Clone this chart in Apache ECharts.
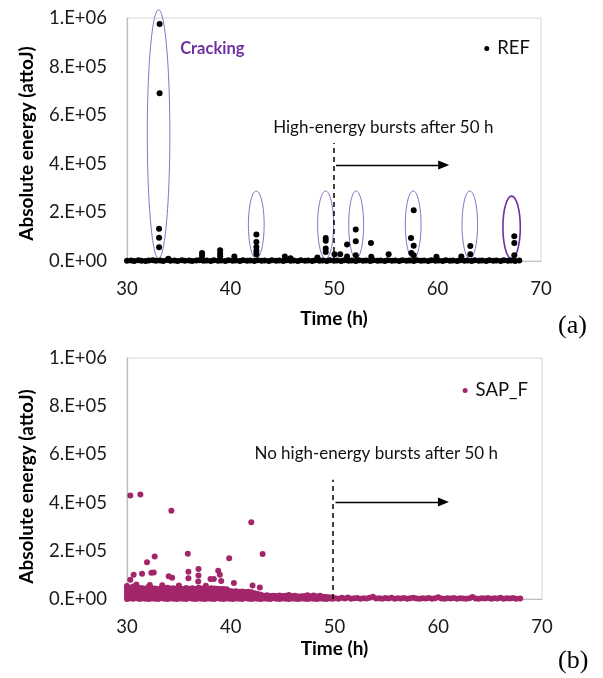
<!DOCTYPE html>
<html>
<head>
<meta charset="utf-8">
<script src="https://cdn.jsdelivr.net/npm/echarts@6/dist/echarts.min.js"></script>
<style>
  html, body { margin: 0; padding: 0; background: #fff; }
  #chart { width: 603px; height: 678px; }
</style>
</head>
<body>
<div id="chart"></div>
<script>
// ---- axis ticks ----
const timeTicks = { min: 30, max: 70, interval: 10 };
const energyTicks = { min: 0, max: 1000000, interval: 200000 };

// ---- REF (panel a): energy bursts [time h, energy attoJ] ----
const refBursts = [
  [33.15, 975000], [33.15, 690000], [33.1, 133000], [33.1, 96000], [33.1, 57000],
  [34.0, 9000],
  [37.25, 33000], [37.25, 22000],
  [39.0, 44000], [39.0, 31000], [39.0, 20000],
  [40.37, 19000],
  [42.5, 109000], [42.5, 78000], [42.5, 58000], [42.5, 41000], [42.5, 28000],
  [45.25, 19000], [45.8, 11000],
  [48.4, 14000],
  [49.2, 95000], [49.2, 83000], [49.2, 51000], [49.2, 37000],
  [50.05, 28000], [50.6, 28000],
  [51.26, 68000], [51.26, 19000],
  [52.1, 130000], [52.1, 81000], [52.1, 24000],
  [53.57, 74000], [53.6, 17000],
  [55.28, 28000],
  [57.7, 209000], [57.44, 95000], [57.7, 63000], [57.47, 33000], [57.7, 24000],
  [59.9, 17000],
  [62.3, 19000],
  [63.17, 62000], [63.17, 28000],
  [67.42, 102000], [67.42, 74000], [67.42, 24000]
];

// ---- REF (panel a): low-energy background events ----
const refBackground = [
  [30.0,1000],[30.4,2500],[30.7,500],[31.1,3000],[31.4,1500],[31.8,0],[32.1,2000],[32.5,3500],
  [32.8,1000],[33.2,2500],[33.5,500],[33.9,4000],[34.2,1500],[34.6,2000],[34.9,500],[35.3,3000],
  [35.6,1000],[36.0,2500],[36.3,0],[36.7,2000],[37.0,3500],[37.4,1000],[37.7,2500],[38.1,500],
  [38.4,3000],[38.8,1500],[39.1,2000],[39.5,500],[39.8,3500],[40.2,1000],[40.5,2500],[40.9,0],
  [41.2,3000],[41.6,1500],[41.9,2000],[42.3,500],[42.6,3500],[43.0,1000],[43.3,2500],[43.7,500],
  [44.0,3000],[44.4,1500],[44.7,2000],[45.1,0],[45.4,3500],[45.8,1000],[46.1,2500],[46.5,500],
  [46.8,3000],[47.2,1500],[47.5,2000],[47.9,500],[48.2,3500],[48.6,1000],[48.9,2500],[49.3,0],
  [49.6,3000],[50.0,1500],[50.3,2000],[50.7,500],[51.0,3500],[51.4,1000],[51.7,2500],[52.1,500],
  [52.4,3000],[52.8,1500],[53.1,2000],[53.5,0],[53.8,3500],[54.2,1000],[54.5,2500],[54.9,500],
  [55.2,3000],[55.6,1500],[55.9,2000],[56.3,500],[56.6,3500],[57.0,1000],[57.3,2500],[57.7,0],
  [58.0,3000],[58.4,1500],[58.7,2000],[59.1,500],[59.4,3500],[59.8,1000],[60.1,2500],[60.5,500],
  [60.8,3000],[61.2,1500],[61.5,2000],[61.9,0],[62.2,3500],[62.6,1000],[62.9,2500],[63.3,500],
  [63.6,3000],[64.0,1500],[64.3,2000],[64.7,500],[65.0,3500],[65.4,1000],[65.7,2500],[66.1,0],
  [66.4,3000],[66.8,1500],[67.1,2000],[67.5,500],[67.9,2500]
];

// ---- SAP_F (panel b): isolated higher-energy events ----
const sapBursts = [
  [30.32, 429000], [31.29, 434000], [34.28, 366000], [41.98, 318000], [43.07, 187000],
  [35.86, 188000], [32.67, 176000], [31.93, 152000], [39.85, 169000],
  [30.64, 101000], [30.32, 80000], [31.45, 105000], [32.35, 109000], [32.58, 110000],
  [34.02, 94000], [34.35, 88000], [35.92, 113000], [35.92, 86000],
  [36.89, 124000], [36.89, 98000], [36.86, 73000], [38.05, 83000], [38.37, 83000],
  [38.79, 117000], [38.95, 101000], [39.08, 75000], [40.3, 66000], [42.1, 56000], [42.8, 48000],
  [30.9, 60000], [32.2, 58000], [33.4, 57000], [35.0, 56000], [37.6, 55000]
];

// ---- SAP_F (panel b): dense low-energy events, one row per time: [time, energies...] ----
const sapDense = [
  [30.0, 0, 11000, 22000, 34000, 46000, 54000],
  [30.3, 2000, 12000, 23000, 35000, 47000],
  [30.6, 1000, 10000, 21000, 33000, 45000, 52000],
  [30.9, 3000, 13000, 24000, 34000, 44000],
  [31.2, 0, 11000, 22000, 33000, 46000],
  [31.5, 2000, 12000, 24000, 35000, 45000],
  [31.8, 1000, 10000, 21000, 32000, 43000],
  [32.1, 0, 12000, 23000, 34000, 46000, 52000],
  [32.4, 2000, 11000, 22000, 33000, 45000],
  [32.7, 1000, 13000, 24000, 35000, 44000],
  [33.0, 0, 11000, 21000, 32000, 42000],
  [33.3, 3000, 12000, 23000, 34000, 45000],
  [33.6, 1000, 10000, 22000, 33000, 43000],
  [33.9, 0, 12000, 24000, 35000, 47000],
  [34.2, 2000, 11000, 21000, 32000, 44000],
  [34.5, 1000, 13000, 23000, 34000, 45000],
  [34.8, 0, 10000, 22000, 33000, 43000],
  [35.1, 2000, 12000, 24000, 34000, 44000],
  [35.4, 1000, 11000, 21000, 32000, 42000],
  [35.7, 0, 12000, 23000, 35000, 46000],
  [36.0, 3000, 10000, 22000, 33000, 43000],
  [36.3, 1000, 12000, 24000, 34000, 45000],
  [36.6, 0, 11000, 21000, 32000, 42000],
  [36.9, 2000, 13000, 23000, 35000, 47000],
  [37.2, 1000, 10000, 22000, 33000, 44000],
  [37.5, 0, 12000, 24000, 34000, 43000],
  [37.8, 2000, 11000, 21000, 32000, 42000],
  [38.1, 1000, 12000, 23000, 35000, 45000],
  [38.4, 0, 10000, 22000, 33000, 44000],
  [38.7, 3000, 12000, 24000, 34000, 43000],
  [39.0, 1000, 11000, 21000, 32000, 41000],
  [39.3, 0, 13000, 23000, 33000, 42000],
  [39.6, 2000, 10000, 22000, 31000, 40000],
  [39.9, 1000, 12000, 24000, 33000],
  [40.2, 0, 11000, 21000, 31000],
  [40.5, 2000, 12000, 23000, 32000],
  [40.8, 1000, 10000, 22000, 30000],
  [41.1, 0, 12000, 24000, 31000],
  [41.4, 3000, 11000, 21000, 29000],
  [41.7, 1000, 13000, 23000, 30000],
  [42.0, 0, 10000, 22000, 28000],
  [42.3, 2000, 12000, 24000],
  [42.6, 1000, 11000, 21000],
  [42.9, 0, 12000, 18000],
  [43.2, 2000, 13000],
  [43.5, 1000, 11000, 16000],
  [43.8, 0, 12000],
  [44.1, 3000, 14000],
  [44.4, 1000, 12000],
  [44.7, 0, 11000, 15000],
  [45.0, 2000, 12000],
  [45.3, 1000, 13000],
  [45.6, 0, 11000, 17000],
  [45.9, 2000, 12000],
  [46.2, 1000, 14000],
  [46.5, 0, 10000],
  [46.8, 2000, 11000],
  [47.1, 1000, 12000],
  [47.4, 0, 16000],
  [47.7, 2000, 11000],
  [48.0, 1000, 15000],
  [48.3, 0, 10000],
  [48.6, 2000, 14000],
  [48.9, 1000, 9000],
  [49.2, 0, 8000],
  [49.5, 2000, 7000],
  [49.8, 1000, 6000]
];

// ---- SAP_F (panel b): events after 50 h ----
const sapLate = [
  [50.1,3000],[50.4,1000],[50.7,5000],[51.0,2000],[51.3,6000],[51.6,1000],[51.9,3000],[52.2,4000],
  [52.5,1000],[52.8,3000],[53.1,2000],[53.4,5000],[53.7,9000],[54.0,2000],[54.3,3000],[54.6,1000],
  [54.9,4000],[55.2,2000],[55.5,5000],[55.8,1000],[56.1,3000],[56.4,2000],[56.7,4000],[57.0,1000],
  [57.3,3000],[57.6,5000],[57.9,2000],[58.2,1000],[58.5,3000],[58.8,2000],[59.1,4000],[59.4,1000],
  [59.7,3000],[60.0,7000],[60.3,2000],[60.6,1000],[60.9,3000],[61.2,2000],[61.5,4000],[61.8,1000],
  [62.1,3000],[62.4,2000],[62.7,1000],[63.0,3000],[63.3,8000],[63.6,2000],[63.9,1000],[64.2,3000],
  [64.5,2000],[64.8,4000],[65.1,1000],[65.4,3000],[65.7,2000],[66.0,5000],[66.3,1000],[66.6,3000],
  [66.9,2000],[67.2,4000],[67.5,1000],[67.9,2000]
];

// ---- cracking clusters circled in panel a: [centre time, half width h, bottom energy, top energy] ----
const crackClusters = [
  [33.05, 1.09, 10000, 1034000],
  [42.49, 0.76, 10000, 288000],
  [49.19, 0.77, 10000, 288000],
  [52.14, 0.72, 10000, 288000],
  [57.65, 0.76, 10000, 288000],
  [63.12, 0.75, 10000, 288000]
];
const crackClusterLast = [[67.16, 0.84, 10000, 267000]];

// ---- annotation anchors (data coordinates) ----
const notesA = [[38.24, 873000, 'Cracking'], [54.76, 549000, 'High-energy bursts after 50 h']];
const notesB = [[54.02, 603000, 'No high-energy bursts after 50 h']];
const boundaryA = { t: 50.0, top: 486000, arrowFrom: 50.2, arrowTo: 60.6, arrowAt: 395000 };
const boundaryB = { t: 49.8, top: 495000, arrowFrom: 50.1, arrowTo: 60.5, arrowAt: 402000 };

// expand [time, e1, e2, ...] rows into [time, energy] points
function expandRows(rows) {
  const out = [];
  rows.forEach(r => { for (let i = 1; i < r.length; i++) out.push([r[0], r[i]]); });
  return out;
}

function sciLabel(v) {
  if (v === 0) return '0.E+00';
  const e = Math.floor(Math.log10(v) + 1e-9);
  const m = Math.round(v / Math.pow(10, e));
  return m + '.E+' + String(e).padStart(2, '0');
}

const FONT = 'Lato, "Open Sans", sans-serif';
const REF_COLOR = '#000000';
const SAP_COLOR = '#A3266B';
const ELLIPSE_COLOR = '#8E6CC9';
const PURPLE = '#7030A0';

function xAxisFor(gridIndex, nameGap) {
  return {
    gridIndex, type: 'value', min: timeTicks.min, max: timeTicks.max, interval: timeTicks.interval,
    name: 'Time (h)', nameLocation: 'middle', nameGap,
    nameTextStyle: { fontFamily: FONT, fontWeight: 'bold', fontSize: 19, color: '#000' },
    axisLine: { show: true, lineStyle: { color: '#BFBFBF', width: 1 } },
    axisTick: { show: false },
    splitLine: { show: false },
    axisLabel: { fontFamily: FONT, fontSize: 18.5, color: '#1a1a1a', margin: 19 }
  };
}
function yAxisFor(gridIndex, namePad) {
  return {
    gridIndex, type: 'value', min: energyTicks.min, max: energyTicks.max, interval: energyTicks.interval,
    name: 'Absolute energy (attoJ)', nameLocation: 'middle', nameGap: 91,
    nameTextStyle: { fontFamily: FONT, fontWeight: 'bold', fontSize: 19, color: '#000', padding: [0, namePad, 0, 0] },
    axisLine: { show: true, lineStyle: { color: '#BFBFBF', width: 1.3 } },
    axisTick: { show: false },
    splitLine: { show: false },
    axisLabel: { fontFamily: FONT, fontSize: 18.5, color: '#1a1a1a', margin: 20, formatter: sciLabel }
  };
}

function ellipseSeries(data, color, width, idx) {
  return {
    type: 'custom', xAxisIndex: idx, yAxisIndex: idx, clip: false, silent: true, z: 3,
    data,
    renderItem(params, api) {
      const c = api.value(0), hw = api.value(1), lo = api.value(2), hi = api.value(3);
      const pL = api.coord([c - hw, lo]);
      const pR = api.coord([c + hw, hi]);
      return {
        type: 'ellipse',
        shape: { cx: (pL[0] + pR[0]) / 2, cy: (pL[1] + pR[1]) / 2,
                 rx: Math.abs(pR[0] - pL[0]) / 2, ry: Math.abs(pL[1] - pR[1]) / 2 },
        style: { fill: 'none', stroke: color, lineWidth: width }
      };
    }
  };
}

function noteSeries(data, idx) {
  return {
    type: 'custom', xAxisIndex: idx, yAxisIndex: idx, clip: false, silent: true, z: 5,
    data,
    renderItem(params, api) {
      const d = data[params.dataIndex];
      const p = api.coord([d[0], d[1]]);
      const isCrack = d[2] === 'Cracking';
      return {
        type: 'text', x: p[0], y: p[1],
        style: {
          text: d[2], align: 'center', verticalAlign: 'middle',
          fill: isCrack ? PURPLE : '#111',
          font: (isCrack ? 'bold 16.5px ' : '17px ') + FONT
        }
      };
    }
  };
}

function boundaryMarks(b) {
  return {
    silent: true, animation: false,
    label: { show: false },
    symbol: ['none', 'none'],
    data: [
      [{ coord: [b.t, 0], lineStyle: { type: [5, 4], color: '#000', width: 1.5 } },
       { coord: [b.t, b.top] }],
      [{ coord: [b.arrowFrom, b.arrowAt], symbol: 'none', lineStyle: { type: 'solid', color: '#000', width: 1.3 } },
       { coord: [b.arrowTo, b.arrowAt], symbol: 'triangle', symbolSize: [9, 11] }]
    ]
  };
}

const chart = echarts.init(document.getElementById('chart'), null, { renderer: 'canvas' });
chart.setOption({
  animation: false,
  backgroundColor: '#ffffff',
  grid: [
    { left: 127, top: 18, width: 414, height: 243, show: true, borderColor: '#D6D6D6', borderWidth: 1 },
    { left: 127, top: 358, width: 415, height: 241, show: true, borderColor: '#D6D6D6', borderWidth: 1 }
  ],
  xAxis: [xAxisFor(0, 48), xAxisFor(1, 40)],
  yAxis: [yAxisFor(0, 8), yAxisFor(1, 16)],
  legend: [
    { data: ['REF'], right: 68, top: 34, icon: 'circle', itemWidth: 5, itemHeight: 5, itemGap: 4,
      textStyle: { fontFamily: FONT, fontSize: 18.5, color: '#111', padding: [0, 0, 0, 3] } },
    { data: ['SAP_F'], right: 70, top: 376, icon: 'circle', itemWidth: 5, itemHeight: 5, itemGap: 4,
      textStyle: { fontFamily: FONT, fontSize: 18.5, color: '#111', padding: [0, 0, 0, 3] } }
  ],
  graphic: [
    { type: 'text', left: 558, top: 313, style: { text: '(a)', font: '26px "Liberation Serif", serif', fill: '#000' } },
    { type: 'text', left: 558, top: 648, style: { text: '(b)', font: '26px "Liberation Serif", serif', fill: '#000' } }
  ],
  series: [
    {
      name: 'REF', type: 'scatter', xAxisIndex: 0, yAxisIndex: 0, symbol: 'circle', symbolSize: 6,
      itemStyle: { color: REF_COLOR, opacity: 1 }, data: refBackground.concat(refBursts), z: 4,
      markLine: boundaryMarks(boundaryA)
    },
    ellipseSeries(crackClusters, ELLIPSE_COLOR, 1, 0),
    ellipseSeries(crackClusterLast, PURPLE, 1.6, 0),
    noteSeries(notesA, 0),
    {
      name: 'SAP_F', type: 'scatter', xAxisIndex: 1, yAxisIndex: 1, symbol: 'circle', symbolSize: 6,
      itemStyle: { color: SAP_COLOR, opacity: 1 }, data: expandRows(sapDense).concat(sapLate, sapBursts), z: 4,
      markLine: boundaryMarks(boundaryB)
    },
    noteSeries(notesB, 1)
  ]
});
</script>
</body>
</html>
